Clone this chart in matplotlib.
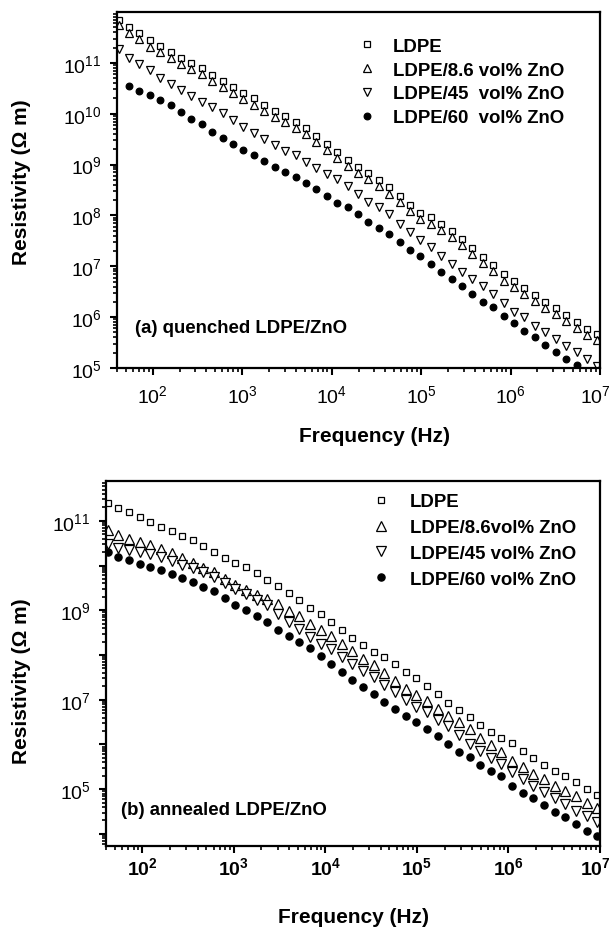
import numpy as np
import matplotlib
matplotlib.use("Agg")
import matplotlib.pyplot as plt
from matplotlib import font_manager as fm
from matplotlib.ticker import FixedLocator, LogLocator, NullFormatter

# ---------------- data ----------------
freq_hz = [41.7, 54.5, 71.2, 93.1, 121.7, 159.1, 208, 272, 355, 464,
           607, 793, 1037, 1355, 1771, 2315, 3026, 3955, 5170, 6758,
           8833, 11550, 15090, 19720, 25780, 33700, 44040, 57570, 75250, 98360,
           128600, 168000, 219600, 287100, 375200, 490500, 641100, 838000, 1095000, 1432000,
           1872000, 2446000, 3198000, 4180000, 5463000, 7141000, 9334000]

series_labels_a = ["LDPE", "LDPE/8.6 vol% ZnO", "LDPE/45  vol% ZnO", "LDPE/60  vol% ZnO"]
series_labels_b = ["LDPE", "LDPE/8.6vol% ZnO", "LDPE/45 vol% ZnO", "LDPE/60 vol% ZnO"]

# log10 of resistivity (Ohm m), quenched samples
log_rho_a_ldpe = [11.85, 11.70, 11.58, 11.44, 11.33, 11.22, 11.10, 11.00, 10.90, 10.77,
                  10.65, 10.52, 10.40, 10.30, 10.18, 10.06, 9.95, 9.83, 9.72, 9.57,
                  9.41, 9.25, 9.09, 8.95, 8.83, 8.70, 8.55, 8.38, 8.20, 8.05,
                  7.96, 7.84, 7.70, 7.53, 7.36, 7.19, 7.02, 6.84, 6.71, 6.58,
                  6.43, 6.30, 6.18, 6.05, 5.91, 5.77, 5.67]
log_rho_a_86 = [11.75, 11.58, 11.46, 11.32, 11.21, 11.10, 10.98, 10.88, 10.78, 10.65,
                10.53, 10.40, 10.28, 10.18, 10.06, 9.94, 9.83, 9.71, 9.60, 9.45,
                9.29, 9.13, 8.97, 8.83, 8.71, 8.58, 8.43, 8.26, 8.08, 7.93,
                7.84, 7.72, 7.58, 7.41, 7.24, 7.07, 6.90, 6.72, 6.59, 6.46,
                6.31, 6.18, 6.06, 5.93, 5.79, 5.65, 5.55]
log_rho_a_45 = [11.27, 11.10, 10.98, 10.85, 10.70, 10.58, 10.46, 10.34, 10.23, 10.13,
                10.02, 9.88, 9.74, 9.63, 9.50, 9.38, 9.27, 9.18, 9.06, 8.94,
                8.82, 8.71, 8.57, 8.43, 8.27, 8.16, 8.02, 7.84, 7.67, 7.52,
                7.37, 7.20, 7.04, 6.88, 6.75, 6.61, 6.45, 6.27, 6.10, 6.00,
                5.82, 5.71, 5.57, 5.43, 5.31, 5.18, 5.04]
log_rho_a_60 = [np.nan, 10.55, 10.45, 10.37, 10.27, 10.18, 10.04, 9.90, 9.80, 9.65,
                9.53, 9.40, 9.29, 9.18, 9.08, 8.96, 8.86, 8.75, 8.63, 8.51,
                8.39, 8.25, 8.16, 8.02, 7.88, 7.76, 7.63, 7.47, 7.33, 7.21,
                7.05, 6.89, 6.75, 6.61, 6.45, 6.29, 6.19, 6.02, 5.88, 5.73,
                5.61, 5.45, 5.31, 5.18, 5.06, 4.92, 4.78]

# log10 of resistivity (Ohm m), annealed samples
log_rho_b_ldpe = [11.40, 11.29, 11.20, 11.09, 10.97, 10.87, 10.77, 10.65, 10.56, 10.44,
                  10.30, 10.17, 10.06, 9.96, 9.83, 9.67, 9.55, 9.39, 9.23, 9.05,
                  8.92, 8.74, 8.56, 8.38, 8.23, 8.07, 7.95, 7.80, 7.62, 7.48,
                  7.30, 7.13, 6.93, 6.78, 6.62, 6.43, 6.28, 6.15, 6.03, 5.86,
                  5.70, 5.55, 5.41, 5.29, 5.15, 5.00, 4.87]
log_rho_b_86 = [10.80, 10.69, 10.60, 10.53, 10.46, 10.37, 10.28, 10.16, 10.05, 9.95,
                9.85, 9.71, 9.57, 9.46, 9.34, 9.25, 9.14, 8.99, 8.87, 8.70,
                8.56, 8.43, 8.25, 8.09, 7.92, 7.78, 7.59, 7.41, 7.25, 7.10,
                6.97, 6.80, 6.64, 6.50, 6.35, 6.14, 5.98, 5.83, 5.63, 5.50,
                5.35, 5.22, 5.08, 4.96, 4.84, 4.70, 4.57]
log_rho_b_45 = [10.49, 10.40, 10.35, 10.31, 10.26, 10.19, 10.11, 10.02, 9.95, 9.86,
                9.75, 9.61, 9.47, 9.36, 9.22, 9.12, 8.92, 8.74, 8.58, 8.40,
                8.25, 8.13, 7.96, 7.79, 7.64, 7.50, 7.32, 7.17, 7.00, 6.84,
                6.72, 6.55, 6.41, 6.21, 6.02, 5.85, 5.70, 5.56, 5.38, 5.23,
                5.07, 4.94, 4.80, 4.67, 4.52, 4.40, 4.27]
log_rho_b_60 = [10.31, 10.19, 10.12, 10.04, 9.97, 9.89, 9.81, 9.72, 9.64, 9.53,
                9.42, 9.28, 9.12, 9.01, 8.88, 8.73, 8.57, 8.43, 8.28, 8.15,
                7.97, 7.79, 7.62, 7.43, 7.29, 7.12, 6.95, 6.79, 6.64, 6.50,
                6.34, 6.19, 6.01, 5.83, 5.72, 5.55, 5.41, 5.29, 5.08, 4.92,
                4.80, 4.65, 4.50, 4.38, 4.22, 4.07, 3.95]

x_tick_exps = [2, 3, 4, 5, 6, 7]
y_tick_exps_a = [5, 6, 7, 8, 9, 10, 11]
y_tick_exps_b = [4, 5, 6, 7, 8, 9, 10, 11]
y_label_exps_b = [5, 7, 9, 11]

# ---------------- fonts ----------------
installed = {f.name for f in fm.fontManager.ttflist}
narrow = "Liberation Sans Narrow" if "Liberation Sans Narrow" in installed else "Liberation Sans"
plt.rcParams["font.family"] = [narrow, "Liberation Sans", "DejaVu Sans"]
plt.rcParams["mathtext.fontset"] = "custom"
plt.rcParams["mathtext.rm"] = narrow
plt.rcParams["mathtext.it"] = narrow
plt.rcParams["mathtext.bf"] = narrow + ":bold"

fig = plt.figure(figsize=(6.13, 9.28), dpi=100)
W, H = 613.0, 928.0
ax_a = fig.add_axes([117 / W, 1 - 369 / H, 483 / W, 356 / H])
ax_b = fig.add_axes([106 / W, 1 - 847 / H, 494 / W, 365 / H])

f = np.array(freq_hz)
LABEL_FS = 15
LEG_FS = 13.4
TICK_FS = 14


def style_axis(ax):
    ax.set_xscale("log")
    ax.set_yscale("log")
    for s in ax.spines.values():
        s.set_linewidth(1.6)
    ax.tick_params(which="major", direction="out", length=5, width=1.5)
    ax.tick_params(which="minor", direction="out", length=3, width=1.2)
    ax.tick_params(top=False, right=False)
    ax.set_xlim(40, 1e7)
    ax.xaxis.set_major_locator(FixedLocator([10.0 ** e for e in x_tick_exps]))
    ax.xaxis.set_minor_locator(LogLocator(base=10, subs=np.arange(2, 10), numticks=20))
    ax.xaxis.set_minor_formatter(NullFormatter())
    ax.yaxis.set_minor_locator(LogLocator(base=10, subs=np.arange(2, 10), numticks=20))
    ax.yaxis.set_minor_formatter(NullFormatter())


def x_ticklabels(ax, fmt, pad_pts):
    # all but the last label as regular tick labels; the last one is nudged
    # a little to the left so that it stays inside the figure
    labels = [fmt % e for e in x_tick_exps[:-1]] + [""]
    ax.set_xticklabels(labels, fontsize=TICK_FS)
    ax.annotate(fmt % x_tick_exps[-1], xy=(10.0 ** x_tick_exps[-1], 0),
                xycoords=ax.get_xaxis_transform(),
                xytext=(-3, -(5 + pad_pts)), textcoords="offset points",
                ha="center", va="top", fontsize=TICK_FS, annotation_clip=False)


mk = dict(linestyle="none", markeredgecolor="black", markeredgewidth=0.9)

# ---------------- panel (a) ----------------
ax = ax_a
style_axis(ax)
ax.plot(f, 10 ** np.array(log_rho_a_ldpe), marker="s", ms=4.8, mfc="white", label=series_labels_a[0], **mk)
ax.plot(f, 10 ** np.array(log_rho_a_86), marker="^", ms=6.2, mfc="white", label=series_labels_a[1], **mk)
ax.plot(f, 10 ** np.array(log_rho_a_45), marker="v", ms=6.2, mfc="white", label=series_labels_a[2], **mk)
ax.plot(f, 10 ** np.array(log_rho_a_60), marker="o", ms=4.8, mfc="black", label=series_labels_a[3], **mk)
ax.set_ylim(1e5, 1e12)
ax.yaxis.set_major_locator(FixedLocator([10.0 ** e for e in y_tick_exps_a]))
ax.set_yticklabels([r"$10^{%d}$" % e for e in y_tick_exps_a], fontsize=TICK_FS)
x_ticklabels(ax, r"$10^{%d}$", 7)
ax.tick_params(axis="y", which="major", pad=6)
ax.tick_params(axis="x", which="major", pad=7)
ax.set_xlabel("Frequency (Hz)", fontsize=LABEL_FS, fontweight="bold", va="center")
ax.xaxis.set_label_coords(0.534, -0.191)
ax.set_ylabel("Resistivity (Ω m)", fontsize=LABEL_FS, fontweight="bold", va="center")
ax.yaxis.set_label_coords(-0.198, 0.525)
ax.text(0.037, 0.115, "(a) quenched LDPE/ZnO", transform=ax.transAxes,
        fontsize=LEG_FS, fontweight="bold", va="center", ha="left")
ax.legend(loc="upper left", bbox_to_anchor=(0.498, 0.928), frameon=False,
          prop={"weight": "bold", "size": LEG_FS}, handlelength=1.0,
          handletextpad=0.9, labelspacing=0.37, borderaxespad=0, borderpad=0,
          numpoints=1)

# ---------------- panel (b) ----------------
ax = ax_b
style_axis(ax)
ax.plot(f, 10 ** np.array(log_rho_b_ldpe), marker="s", ms=4.8, mfc="white", label=series_labels_b[0], **mk)
ax.plot(f, 10 ** np.array(log_rho_b_86), marker="^", ms=7.0, mfc="white", label=series_labels_b[1], **mk)
ax.plot(f, 10 ** np.array(log_rho_b_45), marker="v", ms=7.0, mfc="white", label=series_labels_b[2], **mk)
ax.plot(f, 10 ** np.array(log_rho_b_60), marker="o", ms=5.2, mfc="black", label=series_labels_b[3], **mk)
ax.set_ylim(10 ** 3.73, 10 ** 11.89)
ax.yaxis.set_major_locator(FixedLocator([10.0 ** e for e in y_tick_exps_b]))
ax.set_yticklabels([r"$10^{%d}$" % e if e in y_label_exps_b else "" for e in y_tick_exps_b],
                   fontsize=TICK_FS)
x_ticklabels(ax, r"$\mathbf{10^{%d}}$", 2)
ax.tick_params(axis="y", which="major", pad=6)
ax.tick_params(axis="x", which="major", pad=2)
ax.set_xlabel("Frequency (Hz)", fontsize=LABEL_FS, fontweight="bold", va="center")
ax.xaxis.set_label_coords(0.502, -0.192)
ax.set_ylabel("Resistivity (Ω m)", fontsize=LABEL_FS, fontweight="bold", va="center")
ax.yaxis.set_label_coords(-0.172, 0.455)
ax.text(0.030, 0.101, "(b) annealed LDPE/ZnO", transform=ax.transAxes,
        fontsize=LEG_FS, fontweight="bold", va="center", ha="left")
ax.legend(loc="upper left", bbox_to_anchor=(0.538, 0.966), frameon=False,
          prop={"weight": "bold", "size": LEG_FS}, handlelength=1.0,
          handletextpad=1.06, labelspacing=0.47, borderaxespad=0, borderpad=0,
          numpoints=1)

fig.savefig("out.png", dpi=100, facecolor="white")
